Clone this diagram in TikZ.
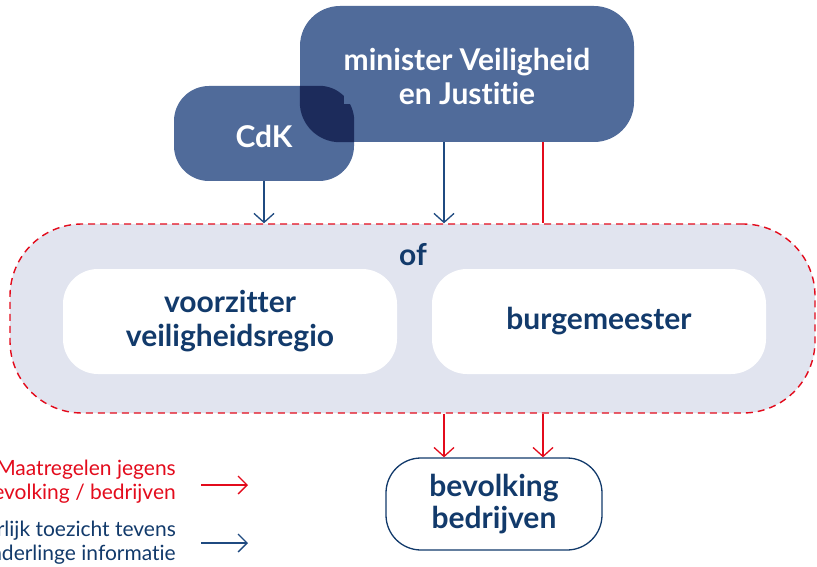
\documentclass[tikz,border=0pt]{standalone}
\usepackage{fontspec}
\setmainfont{Lato}[Ligatures=NoCommon]
\usetikzlibrary{arrows.meta}
\definecolor{navy}{HTML}{123A6B}
\definecolor{boxblue}{HTML}{506B9A}
\definecolor{overlapblue}{HTML}{1C2B5B}
\definecolor{groupgrey}{HTML}{E1E4EF}
\definecolor{alertred}{HTML}{E30B1C}
\definecolor{lineblue}{HTML}{1F4A80}
\begin{document}
\begin{tikzpicture}[x=1pt,y=-1pt]
     % Define styles
     \tikzstyle{boss} = [fill=boxblue, text=white, inner sep=0pt, align=center, font=\bfseries\fontsize{30}{34}\selectfont]
     \tikzstyle{role} = [fill=white, text=navy, inner sep=0pt, align=center, rounded corners=35pt, minimum width=334pt, minimum height=105pt, font=\bfseries\fontsize{30}{34}\selectfont]
     \tikzstyle{group} = [fill=groupgrey, draw=alertred, line width=1.4pt, dash pattern=on 7pt off 5pt, rounded corners=72pt, inner sep=0pt]
     \tikzstyle{redline} = [alertred, line width=1.3pt]
     \tikzstyle{blueline} = [lineblue, line width=1.3pt]
     \tikzstyle{tip} = [-{Straight Barb[length=9pt,width=20pt,line width=1.3pt]}]
     \tikzstyle{key} = [anchor=east, align=right, inner sep=0pt, font=\fontsize{21}{24}\selectfont]

     \useasboundingbox (0,0) rectangle (817,567);
     \clip (0,0) rectangle (817,567);

     % Container with the two roles
     \node[group, minimum width=805pt, minimum height=189pt] (group) at (412.5,318.5) {};
     \node[text=navy, font=\bfseries\fontsize{30}{30}\selectfont] (or) at (413,255) {of};
     \node[role] (chair) at (230,321.5) {voorzitter\\veiligheidsregio};
     \node[role] (mayor) at (599,321.5) {burgemeester};

     % Top boxes
     \node[boss, rounded corners=35pt, minimum width=180pt, minimum height=95pt] (cdk) at (264,133.5) {};
     \node[boss, rounded corners=40pt, minimum width=334pt, minimum height=136pt] (minister) at (467,74) {};
     \begin{scope}
          \clip[rounded corners=35pt] (cdk.south west) rectangle (cdk.north east);
          \fill[overlapblue, rounded corners=40pt] (minister.south west) rectangle (minister.north east);
     \end{scope}
     \node[boss] at ([yshift=-3pt]cdk.center) {CdK};
     \node[boss] at ([yshift=-2pt]minister.center) {minister Veiligheid\\en Justitie};

     % Population
     \node[draw=navy, line width=1.3pt, fill=white, text=navy, rounded corners=35pt, minimum width=216pt, minimum height=92pt, align=center, inner sep=0pt, font=\bfseries\fontsize{30}{32}\selectfont] (people) at (494,504) {bevolking\\bedrijven};

     % Connectors
     \draw[blueline, tip] (cdk.south) -- (cdk.south |- group.north);
     \draw[blueline, tip] ([xshift=-23pt]minister.south) -- ([xshift=-23pt]minister.south |- group.north);
     \draw[redline] ([xshift=76pt]minister.south) -- ([xshift=76pt]minister.south |- group.north);
     \draw[redline, tip] ([xshift=-50pt]people.north |- group.south) -- ([xshift=-50pt]people.north);
     \draw[redline, tip] ([xshift=49pt]people.north |- group.south) -- ([xshift=49pt]people.north);

     % Legend
     \node[key, text=alertred] (redkey) at (176,482) {Maatregelen jegens\\bevolking / bedrijven};
     \node[key, text=navy] (bluekey) at (176,543) {Bestuurlijk toezicht tevens\\onderlinge informatie};
     \draw[redline, -{Straight Barb[length=9pt,width=18pt,line width=1.3pt]}] ([xshift=25pt,yshift=-3pt]redkey.east) -- ([xshift=72pt,yshift=-3pt]redkey.east);
     \draw[blueline, -{Straight Barb[length=9pt,width=18pt,line width=1.3pt]}] ([xshift=25pt]bluekey.east) -- ([xshift=72pt]bluekey.east);

\end{tikzpicture}
\end{document}
